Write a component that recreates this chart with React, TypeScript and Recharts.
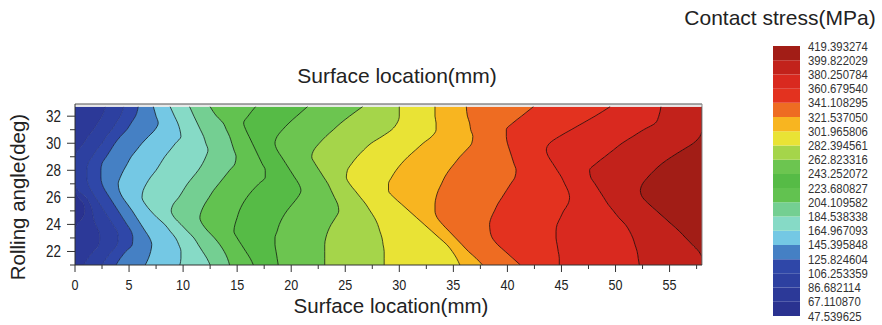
import React from 'react';
import { ComposedChart, Area, Line, XAxis, YAxis, ReferenceLine, ReferenceArea, BarChart, Bar } from 'recharts';

// Rolling angle rows (deg)
const rollingAngle = [32.7, 32, 31.5, 31, 30.5, 30, 29.5, 29, 28.5, 28, 27.5, 27, 26.5, 26, 25.5, 25, 24.5, 24, 23.5, 23, 22.5, 22, 21.5, 21];

// Contour positions (surface location, mm) for each stress level, per row
const c67 = [0, 0, 0, 0, 0, 0, 0, 0, 0, 0, 0, 0, 0, 0.3, 0.8, 0.9, 0.7, 0.2, 0, 0, 0, 0, 0, 0];
const c86 = [2.8, 2.5, 2.1, 1.7, 1.2, 0.8, 0.3, 0, 0, 0, 0, 0, 0.3, 1.0, 1.4, 1.6, 1.7, 1.9, 2.2, 2.3, 2.2, 1.7, 1.2, 0.8];
const c106 = [4.5, 4.2, 3.8, 3.4, 2.9, 2.5, 2.0, 1.6, 1.2, 1.1, 1.1, 1.2, 1.5, 1.9, 2.3, 2.7, 3.1, 3.5, 3.9, 4.0, 3.9, 3.4, 2.9, 2.5];
const c125 = [5.85, 5.6, 5.2, 4.8, 4.2, 3.7, 3.3, 2.9, 2.5, 2.4, 2.4, 2.5, 2.8, 3.2, 3.6, 4.0, 4.4, 4.8, 5.2, 5.35, 5.3, 4.7, 4.2, 3.8];
const c145 = [7.25, 7.5, 7.7, 7.4, 6.8, 6.2, 5.7, 5.2, 4.85, 4.5, 4.2, 4.0, 4.1, 4.4, 4.85, 5.3, 5.7, 6.1, 6.5, 6.9, 7.1, 7.0, 6.8, 6.5];
const c165 = [8.8, 9.2, 9.5, 9.7, 9.8, 9.3, 8.8, 8.3, 7.9, 7.5, 7.0, 6.6, 6.3, 6.2, 6.5, 7.0, 7.6, 8.3, 8.8, 9.3, 9.6, 9.8, 9.8, 9.7];
const c184 = [10.6, 11.0, 11.3, 11.6, 11.9, 12.1, 12.3, 12.1, 11.8, 11.4, 10.9, 10.4, 10.0, 9.6, 9.1, 8.9, 9.2, 9.8, 10.4, 11.0, 11.4, 11.8, 12.2, 12.5];
const c204 = [12.5, 13.1, 13.7, 14.0, 14.3, 14.5, 14.7, 14.9, 14.8, 14.3, 13.8, 13.3, 12.8, 12.4, 12.0, 11.7, 11.55, 11.8, 12.3, 12.9, 13.4, 13.8, 14.1, 14.3];
const c223 = [16.7, 16.0, 15.6, 15.8, 16.1, 16.4, 16.7, 17.0, 17.3, 17.6, 17.6, 17.0, 16.4, 15.9, 15.5, 15.2, 15.0, 14.8, 14.7, 15.0, 15.4, 15.8, 16.2, 16.5];
const c243 = [21.5, 20.5, 19.8, 19.2, 18.7, 18.5, 18.7, 19.1, 19.5, 19.9, 20.3, 20.7, 20.9, 20.6, 20.1, 19.6, 19.2, 18.9, 18.7, 18.5, 18.5, 18.6, 18.7, 18.8];
const c262 = [26.6, 25.4, 24.6, 23.9, 23.2, 22.6, 22.1, 21.9, 22.2, 22.6, 23.0, 23.4, 23.7, 24.0, 24.3, 24.4, 24.1, 23.7, 23.4, 23.2, 23.1, 23.1, 23.1, 23.1];
const c282 = [30.0, 30.0, 29.8, 29.3, 28.4, 27.4, 26.7, 26.1, 25.6, 25.2, 25.1, 25.4, 25.9, 26.4, 26.9, 27.3, 27.7, 28.0, 28.2, 28.4, 28.5, 28.6, 28.6, 28.6];
const c302 = [33.3, 33.3, 33.4, 33.4, 33.0, 32.2, 31.5, 30.8, 30.2, 29.7, 29.3, 29.0, 29.0, 29.5, 30.2, 30.9, 31.6, 32.3, 33.0, 33.7, 34.4, 34.9, 35.3, 35.6];
const c321 = [36.2, 36.3, 36.5, 36.6, 36.8, 36.7, 36.2, 35.6, 35.1, 34.6, 34.2, 33.9, 33.6, 33.4, 33.3, 33.3, 33.5, 34.0, 34.6, 35.2, 35.8, 36.4, 37.1, 37.7];
const c341 = [42.4, 41.3, 40.5, 39.9, 39.9, 40.0, 40.2, 40.4, 40.6, 40.8, 40.7, 40.3, 39.9, 39.5, 39.1, 38.8, 38.5, 38.35, 38.4, 38.6, 39.1, 39.8, 40.5, 41.2];
const c360 = [49.5, 48.1, 47.0, 45.9, 44.8, 43.9, 43.6, 43.8, 44.2, 44.6, 45.0, 45.3, 45.6, 45.75, 45.6, 45.2, 44.9, 44.6, 44.5, 44.5, 44.6, 44.7, 44.8, 44.8];
const c380 = [54.2, 54.0, 53.7, 52.6, 51.6, 50.6, 49.8, 49.0, 48.2, 47.6, 47.7, 48.1, 48.5, 48.9, 49.3, 49.8, 50.3, 50.9, 51.3, 51.6, 51.8, 52.0, 52.1, 52.2];
const c399 = [58, 58, 58, 58, 57.8, 57.2, 56.2, 55.2, 54.3, 53.6, 53.0, 52.5, 52.3, 52.5, 53.1, 53.8, 54.5, 55.2, 55.9, 56.5, 57.1, 57.7, 58, 58];

const contours = [c67, c86, c106, c125, c145, c165, c184, c204, c223, c243, c262, c282, c302, c321, c341, c360, c380, c399];
const surfaceMin = 0;
const surfaceMax = 58;

// Stress levels (MPa) and legend labels
const levels = [47.539625, 67.11087, 86.682114, 106.253359, 125.824604, 145.395848, 164.967093, 184.538338, 204.109582, 223.680827, 243.252072, 262.823316, 282.394561, 301.965806, 321.53705, 341.108295, 360.67954, 380.250784, 399.822029, 419.393274];
const levelLabels = ['47.539625', '67.110870', '86.682114', '106.253359', '125.824604', '145.395848', '164.967093', '184.538338', '204.109582', '223.680827', '243.252072', '262.823316', '282.394561', '301.965806', '321.537050', '341.108295', '360.679540', '380.250784', '399.822029', '419.393274'];
const bandColors = ['#2a3290', '#2c3998', '#2d40a0', '#2f47a8', '#4580c4', '#74c8e4', '#86dac6', '#74cf92', '#62c250', '#56bb46', '#6cc550', '#a5d54a', '#e9e335', '#f8b520', '#ee6c22', '#e3321f', '#d9291f', '#c2221b', '#a21d16'];
const lineOpacity = [0.12, 0.14, 0.16, 0.5, 0.68, 0.68, 0.68, 0.68, 0.68, 0.68, 0.68, 0.68, 0.68, 0.68, 0.68, 0.68, 0.68, 0.68];

const xTicks = [0, 2.5, 5, 7.5, 10, 12.5, 15, 17.5, 20, 22.5, 25, 27.5, 30, 32.5, 35, 37.5, 40, 42.5, 45, 47.5, 50, 52.5, 55, 57.5];
const yTicks = [21, 22, 23, 24, 25, 26, 27, 28, 29, 30, 31, 32];

const FONT = '"Liberation Sans", Arial, sans-serif';
const NARROW_SCALE = 0.84;

const table = rollingAngle.map((a, j) => {
  const row: any = { angle: a };
  const bounds = [surfaceMin, ...contours.map((c) => c[j]), surfaceMax];
  for (let i = 0; i < bounds.length - 1; i++) row[`w${i}`] = Math.max(0, bounds[i + 1] - bounds[i]);
  contours.forEach((c, i) => { row[`k${i}`] = c[j]; });
  return row;
});

const legendRow: any = { cat: 'bar', base: levels[0] };
for (let i = 0; i < levels.length - 1; i++) legendRow[`s${i}`] = levels[i + 1] - levels[i];
const legendData = [legendRow];

const NarrowText = ({ x, y, anchor, size, fill, children }: any) => (
  <g transform={`translate(${x},${y}) scale(${NARROW_SCALE},1)`}>
    <text x={0} y={0} textAnchor={anchor} fontSize={size} fill={fill} fontFamily={FONT}>{children}</text>
  </g>
);

const XTick = (props: any) => {
  const { x, y, payload } = props;
  const v = payload.value;
  const major = Math.abs(v % 5) < 1e-6;
  return (
    <g>
      <line x1={x} x2={x} y1={y} y2={y + (major ? 7 : 4)} stroke="#333" strokeWidth={1} />
      {major && <NarrowText x={x} y={y + 25} anchor="middle" size={15} fill="#222">{v}</NarrowText>}
    </g>
  );
};

const YTick = (props: any) => {
  const { x, y, payload } = props;
  const v = payload.value;
  const major = v % 2 === 0;
  return (
    <g>
      <line x1={x} x2={x - (major ? 8 : 5)} y1={y} y2={y} stroke="#333" strokeWidth={1} />
      {major && <NarrowText x={x - 14} y={y + 5.5} anchor="end" size={16} fill="#222">{v}</NarrowText>}
    </g>
  );
};

const LegendTick = (props: any) => {
  const { x, y, payload } = props;
  const idx = levels.indexOf(payload.value);
  return <NarrowText x={x} y={y + 4.5} anchor="start" size={13.5} fill="#333">{levelLabels[idx]}</NarrowText>;
};

export default function App() {
  return (
    <div style={{ position: 'absolute', left: 0, top: 0, width: 882, height: 325, background: '#fff', fontFamily: FONT, color: '#222' }}>
      <ComposedChart
        width={882}
        height={325}
        data={table}
        layout="vertical"
        margin={{ top: 104, right: 180, bottom: 30, left: 30 }}
      >
        <XAxis
          type="number"
          domain={[surfaceMin, surfaceMax]}
          ticks={xTicks}
          interval={0}
          tick={<XTick />}
          tickLine={false}
          tickSize={0}
          tickMargin={0}
          axisLine={{ stroke: '#333' }}
          height={30}
          allowDataOverflow
        />
        <YAxis
          type="number"
          dataKey="angle"
          domain={[21, 32.9]}
          reversed
          ticks={yTicks}
          interval={0}
          tick={<YTick />}
          tickLine={false}
          tickSize={0}
          tickMargin={0}
          axisLine={{ stroke: '#333' }}
          width={45}
          allowDataOverflow
        />
        {bandColors.map((col, i) => (
          <Area
            key={`band${i}`}
            dataKey={`w${i}`}
            stackId="bands"
            type="monotone"
            fill={col}
            fillOpacity={1}
            stroke={col}
            strokeWidth={0.8}
            isAnimationActive={false}
            dot={false}
            activeDot={false}
          />
        ))}
        {contours.map((_, i) => (
          <Line
            key={`line${i}`}
            dataKey={`k${i}`}
            type="monotone"
            stroke="#000"
            strokeOpacity={lineOpacity[i]}
            strokeWidth={1}
            dot={false}
            activeDot={false}
            isAnimationActive={false}
          />
        ))}
        <ReferenceArea y1={32.7} y2={32.9} fill="#e8e8e8" fillOpacity={1} stroke="none" />
        <ReferenceLine y={32.9} stroke="#555" strokeWidth={1.2} />
        <ReferenceLine x={surfaceMax} stroke="#888" strokeWidth={1} />
      </ComposedChart>

      <div style={{ position: 'absolute', left: 773, top: 36 }}>
        <BarChart
          width={109}
          height={290}
          data={legendData}
          margin={{ top: 10, right: 0, bottom: 10, left: 0 }}
          barCategoryGap={0}
        >
          <XAxis dataKey="cat" hide />
          <YAxis
            orientation="right"
            type="number"
            domain={[levels[0], levels[levels.length - 1]]}
            ticks={levels}
            interval={0}
            allowDataOverflow
            axisLine={false}
            tickLine={false}
            tickSize={0}
            tickMargin={8}
            width={82}
            tick={<LegendTick />}
          />
          <Bar dataKey="base" stackId="cb" fill="transparent" isAnimationActive={false} />
          {bandColors.map((col, i) => (
            <Bar key={`cb${i}`} dataKey={`s${i}`} stackId="cb" fill={col} isAnimationActive={false} />
          ))}
        </BarChart>
      </div>

      <div style={{ position: 'absolute', left: 630, top: 7, width: 300, textAlign: 'center', fontSize: 21, lineHeight: '22px', whiteSpace: 'nowrap' }}>Contact stress(MPa)</div>
      <div style={{ position: 'absolute', left: 247, top: 65, width: 300, textAlign: 'center', fontSize: 21, lineHeight: '22px', whiteSpace: 'nowrap' }}>Surface location(mm)</div>
      <div style={{ position: 'absolute', left: 241, top: 295, width: 300, textAlign: 'center', fontSize: 20.5, lineHeight: '22px', whiteSpace: 'nowrap' }}>Surface location(mm)</div>
      <div style={{ position: 'absolute', left: 18 - 150, top: 197 - 11, width: 300, textAlign: 'center', fontSize: 20.5, lineHeight: '22px', whiteSpace: 'nowrap', transform: 'rotate(-90deg)' }}>Rolling angle(deg)</div>
    </div>
  );
}
